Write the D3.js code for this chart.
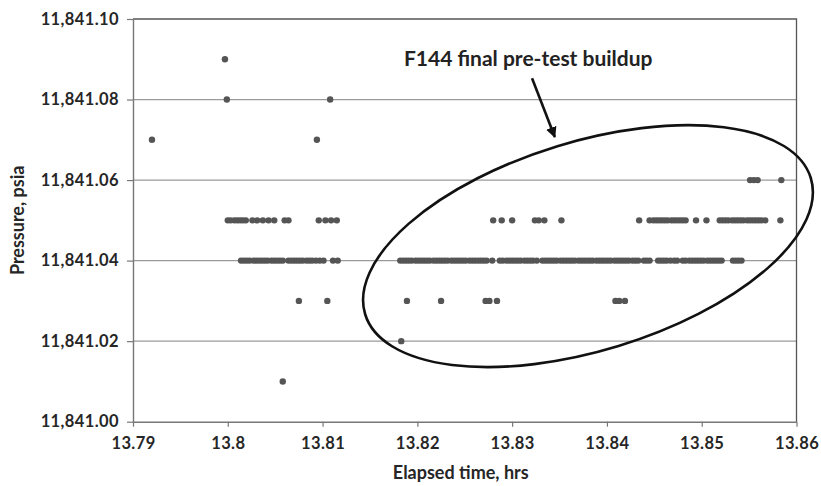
<!DOCTYPE html>
<html>
<head>
<meta charset="utf-8">
<script src="https://cdn.jsdelivr.net/npm/d3@7"></script>
<style>
  html, body { margin: 0; padding: 0; background: #fff; }
  svg { display: block; font-family: "Lato", "Open Sans", sans-serif; }
</style>
</head>
<body>
<svg id="chart" width="821" height="486"></svg>
<script>
// Gauge readings (elapsed time, hrs) grouped by recorded pressure level
const pressureLevels = [11841.01, 11841.02, 11841.03, 11841.04, 11841.05, 11841.06, 11841.07, 11841.08, 11841.09];

const timesAt01 = [13.8058];
const timesAt02 = [13.8183];
const timesAt03 = [13.8075, 13.8105, 13.8189, 13.8225, 13.8272, 13.8276, 13.8284,
  13.8409, 13.8413, 13.8419];
const timesAt04 = [
  13.8014, 13.8017, 13.8020, 13.8023, 13.8027, 13.8030, 13.8033, 13.8036, 13.8039, 13.8042,
  13.8046, 13.8049, 13.8052, 13.8055, 13.8058,
  13.8064, 13.8067, 13.8070, 13.8073, 13.8076, 13.8079, 13.8083, 13.8086, 13.8089, 13.8093, 13.8097,
  13.8101, 13.8111, 13.8116,
  13.8182, 13.8185, 13.8188, 13.8191, 13.8194, 13.8198, 13.8201, 13.8204, 13.8207, 13.8210,
  13.8213, 13.8217, 13.8220, 13.8223, 13.8226, 13.8229, 13.8232, 13.8236, 13.8239, 13.8242,
  13.8245, 13.8248, 13.8251, 13.8255, 13.8258, 13.8261, 13.8264, 13.8267, 13.8270, 13.8273,
  13.8279,
  13.8287, 13.8290, 13.8294, 13.8297, 13.8300, 13.8303, 13.8306, 13.8309, 13.8313, 13.8316,
  13.8319, 13.8322, 13.8326,
  13.8332, 13.8335, 13.8338, 13.8341, 13.8344, 13.8347, 13.8351, 13.8354, 13.8357, 13.8360,
  13.8363, 13.8366, 13.8370, 13.8373, 13.8376, 13.8379, 13.8382, 13.8385, 13.8389, 13.8392,
  13.8395, 13.8398, 13.8401, 13.8404, 13.8408, 13.8411, 13.8414, 13.8417, 13.8420, 13.8423,
  13.8427, 13.8430, 13.8433,
  13.8439, 13.8442, 13.8445,
  13.8454, 13.8457, 13.8460, 13.8463, 13.8467, 13.8471, 13.8474,
  13.8480, 13.8483, 13.8487, 13.8490, 13.8493, 13.8496, 13.8499, 13.8502, 13.8506, 13.8509,
  13.8512, 13.8515, 13.8518, 13.8521,
  13.8533, 13.8536, 13.8539, 13.8542
];
const timesAt05 = [
  13.8000, 13.8003, 13.8007, 13.8010, 13.8013, 13.8016, 13.8019, 13.8026, 13.8031, 13.8037,
  13.8043, 13.8049,
  13.8060, 13.8064,
  13.8096, 13.8103, 13.8109, 13.8115,
  13.8280, 13.8289, 13.8300,
  13.8324, 13.8328, 13.8334,
  13.8352,
  13.8434,
  13.8445, 13.8449, 13.8452, 13.8455, 13.8458, 13.8461, 13.8464, 13.8468, 13.8471, 13.8474,
  13.8477, 13.8480, 13.8483,
  13.8494, 13.8505,
  13.8519, 13.8522, 13.8525, 13.8528, 13.8532, 13.8535, 13.8538, 13.8541, 13.8544, 13.8548,
  13.8551, 13.8554, 13.8557, 13.8560, 13.8563, 13.8567,
  13.8583
];
const timesAt06 = [13.8551, 13.8555, 13.8559, 13.8584];
const timesAt07 = [13.7920, 13.8094];
const timesAt08 = [13.7999, 13.8108];
const timesAt09 = [13.7997];

const timesByLevel = [timesAt01, timesAt02, timesAt03, timesAt04, timesAt05,
  timesAt06, timesAt07, timesAt08, timesAt09];

const xTickValues = [13.79, 13.80, 13.81, 13.82, 13.83, 13.84, 13.85, 13.86];
const xTickLabels = ["13.79", "13.8", "13.81", "13.82", "13.83", "13.84", "13.85", "13.86"];
const yTickValues = [11841.00, 11841.02, 11841.04, 11841.06, 11841.08, 11841.10];
const yTickLabels = ["11,841.00", "11,841.02", "11,841.04", "11,841.06", "11,841.08", "11,841.10"];

const xTitle = "Elapsed time, hrs";
const yTitle = "Pressure, psia";
const noteText = "F144 final pre-test buildup";

// Build flat point list
const points = [];
timesByLevel.forEach((ts, i) => ts.forEach(t => points.push({ t, p: pressureLevels[i] })));

const svg = d3.select("#chart");
const W = 821, H = 486;
const margin = { left: 133, right: 24.5, top: 19, bottom: 64.3 };

const x = d3.scaleLinear().domain([13.79, 13.86]).range([margin.left, W - margin.right]);
const y = d3.scaleLinear().domain([11841.00, 11841.10]).range([H - margin.bottom, margin.top]);

// Horizontal gridlines
svg.append("g")
  .selectAll("line")
  .data(yTickValues.slice(1, -1))
  .join("line")
  .attr("x1", x.range()[0]).attr("x2", x.range()[1])
  .attr("y1", d => y(d)).attr("y2", d => y(d))
  .attr("stroke", "#9a9a9a").attr("stroke-width", 1.3);

// Plot area frame (top and right edges)
svg.append("path")
  .attr("d", `M${x.range()[0]},${y(11841.10)}H${x.range()[1]}V${y(11841.00)}`)
  .attr("fill", "none").attr("stroke", "#555").attr("stroke-width", 1.3);

// Axes
const xAxis = d3.axisBottom(x).tickValues(xTickValues)
  .tickFormat((d, i) => xTickLabels[i]).tickSize(5).tickSizeOuter(0);
const yAxis = d3.axisLeft(y).tickValues(yTickValues)
  .tickFormat((d, i) => yTickLabels[i]).tickSize(6).tickSizeOuter(0);

const gx = svg.append("g").attr("transform", `translate(0,${y(11841.00)})`).call(xAxis);
const gy = svg.append("g").attr("transform", `translate(${x(13.79)},0)`).call(yAxis);

[gx, gy].forEach(g => {
  g.select(".domain").attr("stroke", "#777").attr("stroke-width", 1.4);
  g.selectAll(".tick line").attr("stroke", "#777").attr("stroke-width", 1.2);
  g.selectAll(".tick text")
    .attr("fill", "#262626")
    .style("font-family", "Lato, 'Open Sans', sans-serif")
    .style("font-weight", "bold")
    .style("font-size", "16.5px")
    .style("letter-spacing", "0.4px");
});
gx.selectAll(".tick text").attr("dy", "1.2em");
gy.selectAll(".tick text").attr("x", -14);

// Data points
svg.append("g")
  .selectAll("circle")
  .data(points)
  .join("circle")
  .attr("cx", d => x(d.t))
  .attr("cy", d => y(d.p))
  .attr("r", 3.2)
  .attr("fill", "#555");

// Axis titles
svg.append("text")
  .attr("x", (x.range()[0] + x.range()[1]) / 2 - 4)
  .attr("y", 479)
  .attr("text-anchor", "middle")
  .attr("fill", "#262626")
  .style("font-weight", "bold").style("font-size", "18px")
  .text(xTitle);

svg.append("text")
  .attr("transform", `translate(24,${(y.range()[0] + y.range()[1]) / 2}) rotate(-90)`)
  .attr("text-anchor", "middle")
  .attr("fill", "#262626")
  .style("font-weight", "bold").style("font-size", "18px")
  .text(yTitle);

// Annotation: ellipse around the final buildup, arrow and note
const ellipseCenter = { t: 13.8380, p: 11841.0436 };
svg.append("ellipse")
  .attr("transform", `translate(${x(ellipseCenter.t)},${y(ellipseCenter.p)}) rotate(-17)`)
  .attr("rx", 233).attr("ry", 104.5)
  .attr("fill", "none").attr("stroke", "#111").attr("stroke-width", 2.6);

const defs = svg.append("defs");
defs.append("marker")
  .attr("id", "head").attr("viewBox", "0 0 10 10")
  .attr("refX", 9).attr("refY", 5)
  .attr("markerWidth", 4.2).attr("markerHeight", 4.2)
  .attr("orient", "auto")
  .append("path").attr("d", "M0,0L10,5L0,10Z").attr("fill", "#111");

const arrowFrom = { t: 13.8321, p: 11841.0853 };
const arrowTo = { t: 13.8345, p: 11841.0707 };
svg.append("line")
  .attr("x1", x(arrowFrom.t)).attr("y1", y(arrowFrom.p))
  .attr("x2", x(arrowTo.t)).attr("y2", y(arrowTo.p))
  .attr("stroke", "#111").attr("stroke-width", 2.6)
  .attr("marker-end", "url(#head)");

const noteAt = { t: 13.8317, p: 11841.0883 };
svg.append("text")
  .attr("x", x(noteAt.t)).attr("y", y(noteAt.p))
  .attr("text-anchor", "middle")
  .attr("fill", "#222")
  .style("font-weight", "bold").style("font-size", "21px")
  .text(noteText);
</script>
</body>
</html>
